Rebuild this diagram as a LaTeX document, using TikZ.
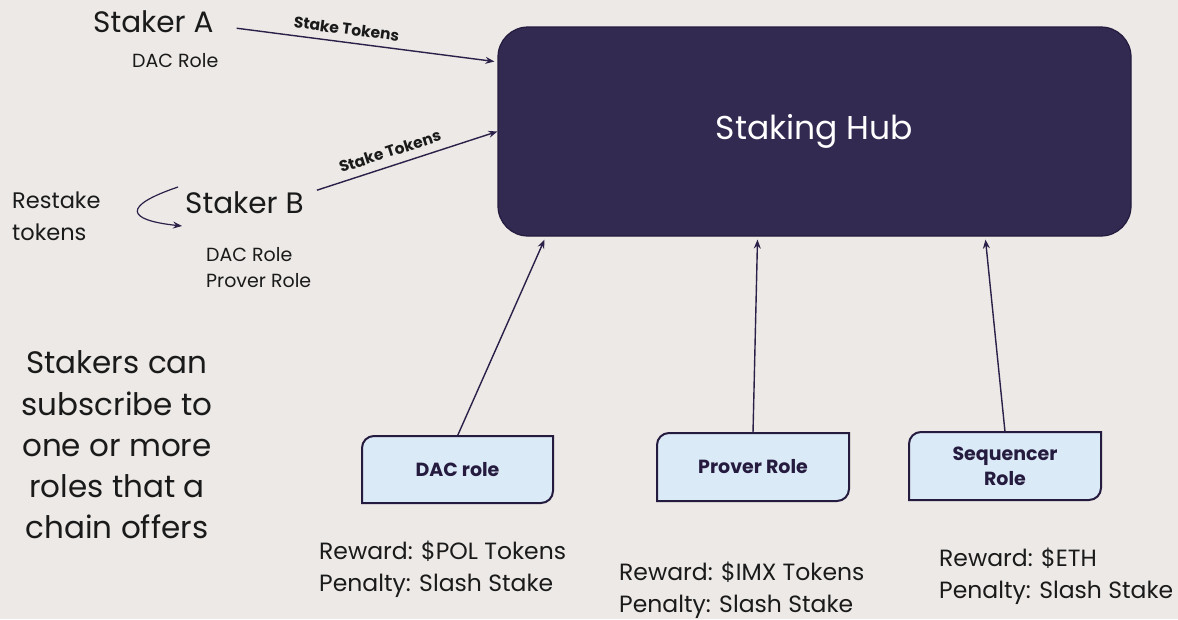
\documentclass[tikz,border=0pt]{standalone}
\usepackage{fontspec}
\setmainfont{Poppins}
\usetikzlibrary{arrows.meta,calc}

\definecolor{paper}{HTML}{ECE9E6}
\definecolor{hubfill}{HTML}{322A50}
\definecolor{ink}{HTML}{1A1A1A}
\definecolor{wire}{HTML}{2A2048}
\definecolor{cardfill}{HTML}{DBEAF7}
\definecolor{cardedge}{HTML}{241B3F}

\tikzset{
  conn/.style={draw=wire, line width=1.4pt, -{Stealth[length=9pt,width=7pt,inset=3pt]}},
  plain/.style={inner sep=0pt, text=ink},
  hubbox/.style={draw=cardedge, line width=1.2pt, fill=hubfill, rounded corners=30pt,
    minimum width=633pt, minimum height=209pt, text=white, font=\fontsize{33}{38}\selectfont},
  cardlabel/.style={inner sep=0pt, text=cardedge, align=center,
    font=\bfseries\fontsize{19}{25}\selectfont},
  edgelabel/.style={inner sep=0pt, text=ink, font=\bfseries\fontsize{15.5}{17}\selectfont},
  cardline/.style={draw=cardedge, line width=2pt, fill=cardfill},
  body/.style={plain, anchor=base west, align=left, font=\fontsize{23.5}{32}\selectfont}
}

% role card with rounded top-left and bottom-right corners
\newcommand\RoleCard[5]{%
  \filldraw[cardline] (#1,#4) -- (#1,#2+12)
    arc[start angle=180, end angle=90, radius=12pt] -- (#3,#2)
    -- (#3,#4-12) arc[start angle=0, end angle=-90, radius=12pt] -- cycle;
  \node[minimum width=#3pt-#1pt, minimum height=#4pt-#2pt, inner sep=0pt] (#5)
    at ({(#1+#3)/2},{(#2+#4)/2}) {};
}

\begin{document}
\begin{tikzpicture}[x=1pt, y=-1pt]
  \fill[paper] (0,0) rectangle (1178,619);
  \useasboundingbox (0,0) rectangle (1178,619);

  % hub
  \node[hubbox] (hub) at (814.5,131.5) {Staking Hub};

  % stakers (multi-line nodes sit on the baseline of their last line)
  \node[plain, anchor=base west, font=\fontsize{29.5}{32}\selectfont] (stakerA) at (93,32) {Staker A};
  \node[plain, anchor=base west, font=\fontsize{19}{20}\selectfont] (rolesA) at (132,67) {DAC Role};
  \node[plain, anchor=base west, font=\fontsize{29.5}{32}\selectfont] (stakerB) at (185,213) {Staker B};
  \node[plain, anchor=base west, align=left, font=\fontsize{19}{26}\selectfont] (rolesB) at (206,287)
    {DAC Role\\Prover Role};
  \node[plain, anchor=base west, align=left, font=\fontsize{22.5}{32}\selectfont] (restake) at (12,240)
    {Restake\\tokens};

  \node[plain, align=center, font=\fontsize{31}{41.3}\selectfont] (note) at (117,445)
    {Stakers can\\subscribe to\\one or more\\roles that a\\chain offers};

  % role cards
  \RoleCard{362}{436}{553}{503}{dac}
  \RoleCard{657}{433}{849}{501}{prover}
  \RoleCard{909}{432}{1101}{500}{seq}
  \node[cardlabel] at (dac) {DAC role};
  \node[cardlabel] at (prover) {Prover Role};
  \node[cardlabel] at (seq) {Sequencer\\Role};

  % rewards
  \node[body] (rwdac) at (319,591) {Reward: \$POL Tokens\\Penalty: Slash Stake};
  \node[body] (rwprover) at (619,612) {Reward: \$IMX Tokens\\Penalty: Slash Stake};
  \node[body] (rwseq) at (939,598) {Reward: \$ETH\\Penalty: Slash Stake};

  % stake connectors
  \coordinate (aStart) at ($(stakerA.east)+(23,7)$);
  \coordinate (aEnd) at ($(hub.west)+(-3,-70)$);
  \draw[conn] (aStart) -- (aEnd)
    node[edgelabel, pos=0.42, above=7pt, sloped] (lblA) {Stake Tokens};
  \coordinate (bStart) at ($(stakerB.east)+(13,-12)$);
  \draw[conn] (bStart) -- (hub.west)
    node[edgelabel, pos=0.43, above=8pt, sloped] (lblB) {Stake Tokens};

  % restake loop
  \coordinate (rsA) at (178,187);
  \coordinate (rsB) at (182,226);
  \draw[conn, line width=1.2pt] (rsA) .. controls (122,206) and (126,220) .. (rsB);

  % role connectors
  \draw[conn] (dac.north) -- ($(hub.south)+(-270,3)$);
  \draw[conn] (prover.north) -- ($(hub.south)+(-57,3)$);
  \draw[conn] (seq.north) -- ($(hub.south)+(171,3)$);
\end{tikzpicture}
\end{document}
